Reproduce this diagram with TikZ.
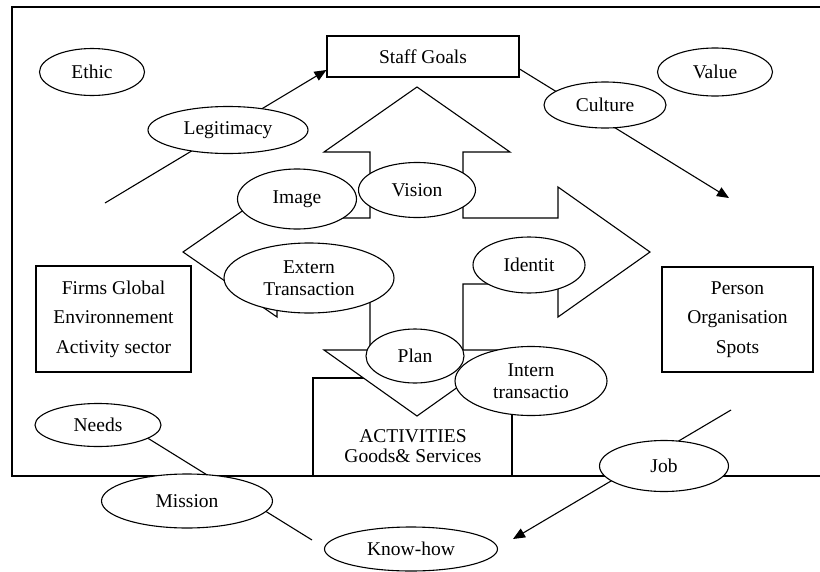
\documentclass[tikz,border=0pt]{standalone}
\usepackage{fontspec}
\setmainfont{Liberation Serif}
\usetikzlibrary{arrows.meta,shapes.geometric}

\begin{document}
\begin{tikzpicture}[x=1pt, y=-1pt, line width=1.1pt,
      arr/.style={-{Triangle[length=12pt,width=10pt]}},
      box/.style={draw, fill=white, align=center, inner sep=0pt,
                  font=\fontsize{19.5}{29.5}\selectfont},
      oval/.style={draw, ellipse, fill=white, align=center, inner sep=0pt,
                   font=\fontsize{19.5}{22.5}\selectfont},
      txt/.style={align=center, inner sep=0pt, font=\fontsize{19.5}{20}\selectfont}
    ]
    \useasboundingbox (0,0) rectangle (820,571);
    \draw[line width=1.6pt] (824,7) -- (12,7) -- (12,476) -- (824,476);

    \node[box, minimum width=155pt, minimum height=106pt] (firms) at (113.5,319)
      {Firms Global\\Environnement\\Activity sector};
    \node[box, minimum width=151pt, minimum height=105pt] (person) at (737.5,319.5)
      {Person\\Organisation\\Spots};
    \node[box, minimum width=192pt, minimum height=41pt] (goals) at (423,56.5) {Staff Goals};
    \node[box, minimum width=199pt, minimum height=98pt] (act) at (412.5,427) {};
    \node[txt] (acttxt) at (413,446) {ACTIVITIES\\Goods\& Services};

    \draw[fill=white] (417,87) -- (510,152) -- (463,152) -- (463,218) -- (558,218)
      -- (558,187) -- (650,252) -- (558,317) -- (558,284) -- (463,284) -- (463,350)
      -- (510,350) -- (417,416) -- (324,350) -- (370,350) -- (370,284) -- (277,284)
      -- (277,317) -- (183,252) -- (277,187) -- (277,218) -- (370,218) -- (370,152)
      -- (324,152) -- cycle;

    \node[oval, minimum width=126pt, minimum height=43pt] (needs) at (98,425) {Needs};
    \node[oval, minimum width=173pt, minimum height=44pt] (knowhow) at (411,549) {Know-how};

    \coordinate (legfoot) at (105,203);
    \coordinate (culttip) at (729,198);
    \coordinate (needsend) at (312,540);
    \coordinate (jobfoot) at (731,410);
    \coordinate (jobtip) at (513,539);
    \draw[arr] (legfoot) -- ([yshift=-13.5pt]goals.west);
    \draw[arr] ([yshift=-12.5pt]goals.east) -- (culttip);
    \draw (needs.-15) -- (needsend);
    \draw[arr] (jobfoot) -- (jobtip);

    \node[oval, minimum width=105pt, minimum height=47pt] (ethic) at (92,72) {Ethic};
    \node[oval, minimum width=115pt, minimum height=48pt] (value) at (715,72) {Value};
    \node[oval, minimum width=160pt, minimum height=47pt] (legit) at (228,130) {Legitimacy};
    \node[oval, minimum width=122pt, minimum height=46pt] (culture) at (605,105) {Culture};
    \node[oval, minimum width=119pt, minimum height=60pt] (image) at (297,199) {Image};
    \node[oval, minimum width=117pt, minimum height=55pt] (vision) at (417,190) {Vision};
    \node[oval, minimum width=170pt, minimum height=70pt] (extern) at (309,278)
      {Extern\\Transaction};
    \node[oval, minimum width=112pt, minimum height=56pt] (identit) at (529,265) {Identit};
    \node[oval, minimum width=98pt, minimum height=54pt] (plan) at (415,356) {Plan};
    \node[oval, minimum width=152pt, minimum height=69pt] (intern) at (531,381)
      {Intern\\transactio};
    \node[oval, minimum width=171pt, minimum height=54pt] (mission) at (187,501) {Mission};
    \node[oval, minimum width=129pt, minimum height=51pt] (job) at (664,466) {Job};
  \end{tikzpicture}
\end{document}
